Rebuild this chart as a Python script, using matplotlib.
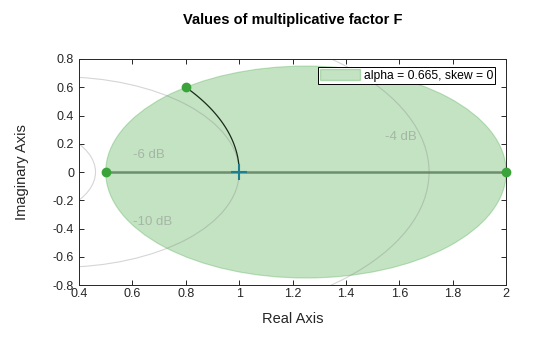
import numpy as np
import matplotlib.pyplot as plt
from matplotlib.patches import Circle, Patch

plt.rcParams['font.family'] = ['Liberation Sans', 'DejaVu Sans']

# disk of multiplicative factor values
disk_lo, disk_hi = 0.5, 2.0
alpha_val, skew_val = 0.665, 0

# phase margin point on the unit circle
pm_point = (0.8, 0.6)

# gain contour circles (center on real axis, radius) and their labels
contour_centers = [0.111, 0.326, 0.654]
contour_radii = [0.351, 0.674, 1.057]
contour_labels = ['-6 dB', '-10 dB', '-4 dB']
label_pos = [(0.66, 0.12), (0.675, -0.355), (1.605, 0.25)]

xticks = [0.4, 0.6, 0.8, 1, 1.2, 1.4, 1.6, 1.8, 2]
yticks = [-0.8, -0.6, -0.4, -0.2, 0, 0.2, 0.4, 0.6, 0.8]

fig = plt.figure(figsize=(5.6, 3.37), dpi=100)
ax = fig.add_axes([0.141, 0.154, 0.763, 0.671])

green = '#3aa33a'
c = (disk_lo + disk_hi) / 2
r = (disk_hi - disk_lo) / 2
ax.add_patch(Circle((c, 0), r, facecolor=green, edgecolor=green, alpha=0.3,
                    lw=0.8, zorder=1))

for cx, rad in zip(contour_centers, contour_radii):
    ax.add_patch(Circle((cx, 0), rad, fill=False, edgecolor='#888888',
                        alpha=0.35, lw=0.8, zorder=2))
for txt, (tx, ty) in zip(contour_labels, label_pos):
    ax.text(tx, ty, txt, ha='center', va='center', fontsize=9.5,
            color='#888888', alpha=0.5, zorder=2)

# gain margin range along the real axis
ax.plot([disk_lo, disk_hi], [0, 0], color='#5e7f5e', lw=1.8, alpha=0.85, zorder=3)

# phase margin arc
th = np.linspace(0, np.arctan2(pm_point[1], pm_point[0]), 100)
ax.plot(np.cos(th), np.sin(th), color='#1a2a1a', lw=0.9, zorder=3)

ax.plot([disk_lo, disk_hi, pm_point[0]], [0, 0, pm_point[1]], 'o',
        color=green, ms=6, zorder=5, clip_on=False)
ax.plot([1], [0], '+', color='#1f7f8f', ms=11, mew=1.5, zorder=6)

ax.set_xlim(0.4, 2)
ax.set_ylim(-0.8, 0.8)
ax.set_xticks(xticks)
ax.set_yticks(yticks)
ax.set_xticklabels([f'{v:g}' for v in xticks])
ax.set_yticklabels([f'{v:g}' for v in yticks])
ax.tick_params(direction='in', top=True, right=True, labelsize=9,
               length=3.5, width=0.7, colors='#262626')
ax.tick_params(axis='x', pad=2)
for s in ax.spines.values():
    s.set_linewidth(0.7)
    s.set_color('#262626')

ax.set_xlabel('Real Axis', fontsize=10.5, color='#262626', labelpad=9)
ax.set_ylabel('Imaginary Axis', fontsize=10.5, color='#262626', labelpad=17)
ax.set_title('Values of multiplicative factor F', fontsize=10.5,
             fontweight='bold', pad=25)

handle = Patch(facecolor=green, edgecolor=green, alpha=0.3)
leg = ax.legend([handle], [f'alpha = {alpha_val}, skew = {skew_val}'],
                loc='upper right', fontsize=8.7, fancybox=False,
                edgecolor='black', framealpha=1, borderpad=0.2,
                handlelength=3.3, handleheight=1.0, handletextpad=0.3,
                borderaxespad=0.55, bbox_to_anchor=(0.99, 0.995))
leg.get_frame().set_linewidth(0.7)

fig.savefig('out.png', dpi=100)
